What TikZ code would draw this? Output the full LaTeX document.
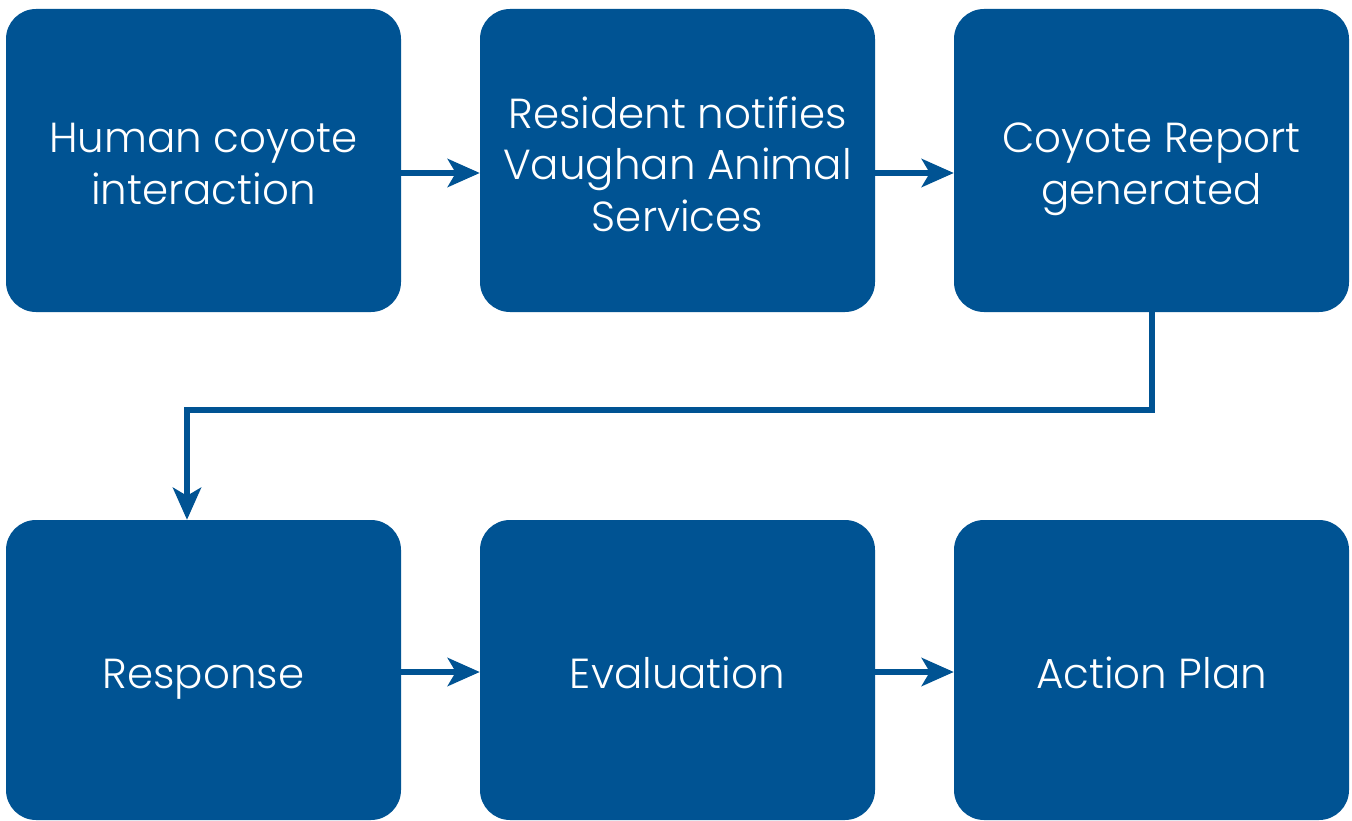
\documentclass[tikz,border=0pt]{standalone}
\usepackage{fontspec}
\setmainfont{Poppins}[UprightFont=* Light]
\usetikzlibrary{arrows.meta,positioning}
\definecolor{vblue}{RGB}{0,83,147}
\begin{document}
\begin{tikzpicture}[x=1pt,y=-1pt,
  stepbox/.style={fill=vblue,draw=none,rounded corners=30pt,minimum width=395pt,inner sep=0pt},
  steptext/.style={text=white,align=center,font=\fontsize{42}{52}\selectfont,inner sep=0pt,anchor=base},
  flow/.style={draw=vblue,line width=6pt,-{Stealth[length=32pt,width=28pt,inset=8pt]}}]
\useasboundingbox (0,0) rectangle (1352,821);
\node[stepbox,minimum height=303pt] (a) at (203.5,160.5) {};
\node[stepbox,minimum height=303pt] (b) at (677.5,160.5) {};
\node[stepbox,minimum height=303pt] (c) at (1151.5,160.5) {};
\node[stepbox,minimum height=300pt] (d) at (203.5,670) {};
\node[stepbox,minimum height=300pt] (e) at (677.5,670) {};
\node[stepbox,minimum height=300pt] (f) at (1151.5,670) {};
\node[steptext] (ta) at (203.5,205) {Human coyote\\interaction};
\node[steptext] (tb) at (677.5,232) {Resident notifies\\Vaughan Animal\\Services};
\node[steptext] (tc) at (1151.5,205) {Coyote Report\\generated};
\node[steptext] (td) at (203.5,688) {Response};
\node[steptext] (te) at (677.5,688) {Evaluation};
\node[steptext] (tf) at (1151.5,688) {Action Plan};
\coordinate (turn) at (187,410);
\draw[flow] (a.east |- 0,173) -- (b.west |- 0,173);
\draw[flow] (b.east |- 0,173) -- (c.west |- 0,173);
\draw[flow] (d.east |- 0,672) -- (e.west |- 0,672);
\draw[flow] (e.east |- 0,672) -- (f.west |- 0,672);
\draw[flow,line join=miter] (c.south) |- (turn) -- (turn |- d.north);
\end{tikzpicture}
\end{document}
